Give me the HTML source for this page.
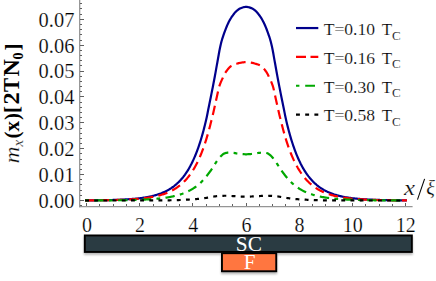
<!DOCTYPE html>
<html><head><meta charset="utf-8"><title>plot</title>
<style>
html,body{margin:0;padding:0;background:#fff;}
body{width:436px;height:281px;overflow:hidden;font-family:"Liberation Serif",serif;}
svg{display:block;}
text{font-family:"Liberation Serif",serif;fill:#000;}
.thin text{stroke:#fff;stroke-width:0.22px;}
.thin2 text{stroke:#fff;stroke-width:0.18px;}
</style></head><body>
<svg width="436" height="281" viewBox="0 0 436 281">
<rect width="436" height="281" fill="#fff"/>
<g stroke="#8c8c8c" fill="none">
<line x1="79.7" y1="0" x2="79.7" y2="207.2" stroke-width="1.2"/>
<line x1="79.1" y1="206.55" x2="412.6" y2="206.55" stroke-width="1.3" stroke="#959595"/>
</g>
<g stroke="#606060" stroke-width="1" fill="none" shape-rendering="crispEdges">
<line x1="86.50" y1="206.00" x2="86.50" y2="203.00"/>
<line x1="99.50" y1="206.00" x2="99.50" y2="204.00"/>
<line x1="113.50" y1="206.00" x2="113.50" y2="204.00"/>
<line x1="126.50" y1="206.00" x2="126.50" y2="204.00"/>
<line x1="139.50" y1="206.00" x2="139.50" y2="203.00"/>
<line x1="153.50" y1="206.00" x2="153.50" y2="204.00"/>
<line x1="166.50" y1="206.00" x2="166.50" y2="204.00"/>
<line x1="179.50" y1="206.00" x2="179.50" y2="204.00"/>
<line x1="192.50" y1="206.00" x2="192.50" y2="203.00"/>
<line x1="206.50" y1="206.00" x2="206.50" y2="204.00"/>
<line x1="219.50" y1="206.00" x2="219.50" y2="204.00"/>
<line x1="232.50" y1="206.00" x2="232.50" y2="204.00"/>
<line x1="246.50" y1="206.00" x2="246.50" y2="203.00"/>
<line x1="259.50" y1="206.00" x2="259.50" y2="204.00"/>
<line x1="272.50" y1="206.00" x2="272.50" y2="204.00"/>
<line x1="285.50" y1="206.00" x2="285.50" y2="204.00"/>
<line x1="299.50" y1="206.00" x2="299.50" y2="203.00"/>
<line x1="312.50" y1="206.00" x2="312.50" y2="204.00"/>
<line x1="325.50" y1="206.00" x2="325.50" y2="204.00"/>
<line x1="339.50" y1="206.00" x2="339.50" y2="204.00"/>
<line x1="352.50" y1="206.00" x2="352.50" y2="203.00"/>
<line x1="365.50" y1="206.00" x2="365.50" y2="204.00"/>
<line x1="379.50" y1="206.00" x2="379.50" y2="204.00"/>
<line x1="392.50" y1="206.00" x2="392.50" y2="204.00"/>
<line x1="405.50" y1="206.00" x2="405.50" y2="203.00"/>
<line x1="80.00" y1="205.50" x2="82.10" y2="205.50"/>
<line x1="80.00" y1="200.50" x2="84.00" y2="200.50"/>
<line x1="80.00" y1="195.50" x2="82.10" y2="195.50"/>
<line x1="80.00" y1="190.50" x2="82.10" y2="190.50"/>
<line x1="80.00" y1="184.50" x2="82.10" y2="184.50"/>
<line x1="80.00" y1="179.50" x2="82.10" y2="179.50"/>
<line x1="80.00" y1="174.50" x2="84.00" y2="174.50"/>
<line x1="80.00" y1="169.50" x2="82.10" y2="169.50"/>
<line x1="80.00" y1="164.50" x2="82.10" y2="164.50"/>
<line x1="80.00" y1="159.50" x2="82.10" y2="159.50"/>
<line x1="80.00" y1="153.50" x2="82.10" y2="153.50"/>
<line x1="80.00" y1="148.50" x2="84.00" y2="148.50"/>
<line x1="80.00" y1="143.50" x2="82.10" y2="143.50"/>
<line x1="80.00" y1="138.50" x2="82.10" y2="138.50"/>
<line x1="80.00" y1="133.50" x2="82.10" y2="133.50"/>
<line x1="80.00" y1="128.50" x2="82.10" y2="128.50"/>
<line x1="80.00" y1="122.50" x2="84.00" y2="122.50"/>
<line x1="80.00" y1="117.50" x2="82.10" y2="117.50"/>
<line x1="80.00" y1="112.50" x2="82.10" y2="112.50"/>
<line x1="80.00" y1="107.50" x2="82.10" y2="107.50"/>
<line x1="80.00" y1="102.50" x2="82.10" y2="102.50"/>
<line x1="80.00" y1="96.50" x2="84.00" y2="96.50"/>
<line x1="80.00" y1="91.50" x2="82.10" y2="91.50"/>
<line x1="80.00" y1="86.50" x2="82.10" y2="86.50"/>
<line x1="80.00" y1="81.50" x2="82.10" y2="81.50"/>
<line x1="80.00" y1="76.50" x2="82.10" y2="76.50"/>
<line x1="80.00" y1="71.50" x2="84.00" y2="71.50"/>
<line x1="80.00" y1="65.50" x2="82.10" y2="65.50"/>
<line x1="80.00" y1="60.50" x2="82.10" y2="60.50"/>
<line x1="80.00" y1="55.50" x2="82.10" y2="55.50"/>
<line x1="80.00" y1="50.50" x2="82.10" y2="50.50"/>
<line x1="80.00" y1="45.50" x2="84.00" y2="45.50"/>
<line x1="80.00" y1="40.50" x2="82.10" y2="40.50"/>
<line x1="80.00" y1="34.50" x2="82.10" y2="34.50"/>
<line x1="80.00" y1="29.50" x2="82.10" y2="29.50"/>
<line x1="80.00" y1="24.50" x2="82.10" y2="24.50"/>
<line x1="80.00" y1="19.50" x2="84.00" y2="19.50"/>
<line x1="80.00" y1="14.50" x2="82.10" y2="14.50"/>
<line x1="80.00" y1="8.50" x2="82.10" y2="8.50"/>
<line x1="80.00" y1="3.50" x2="82.10" y2="3.50"/>
</g>
<g fill="none" stroke-width="2.2" stroke-linejoin="round">
<path d="M85.10 200.38 L85.76 200.37 L86.43 200.37 L87.09 200.37 L87.76 200.36 L88.42 200.36 L89.09 200.35 L89.75 200.35 L90.42 200.34 L91.08 200.33 L91.75 200.33 L92.41 200.32 L93.08 200.31 L93.74 200.31 L94.41 200.30 L95.07 200.29 L95.74 200.29 L96.40 200.28 L97.07 200.27 L97.73 200.26 L98.40 200.25 L99.06 200.24 L99.73 200.24 L100.39 200.23 L101.06 200.22 L101.72 200.21 L102.39 200.19 L103.05 200.18 L103.72 200.17 L104.38 200.16 L105.05 200.15 L105.71 200.13 L106.38 200.12 L107.04 200.11 L107.71 200.09 L108.37 200.08 L109.04 200.06 L109.70 200.05 L110.37 200.03 L111.03 200.01 L111.70 200.00 L112.36 199.98 L113.03 199.96 L113.69 199.94 L114.36 199.92 L115.02 199.90 L115.69 199.88 L116.35 199.85 L117.02 199.83 L117.68 199.81 L118.34 199.78 L119.01 199.75 L119.67 199.73 L120.34 199.70 L121.00 199.67 L121.67 199.64 L122.33 199.61 L123.00 199.58 L123.66 199.54 L124.33 199.51 L124.99 199.47 L125.66 199.43 L126.32 199.39 L126.99 199.35 L127.65 199.31 L128.32 199.27 L128.98 199.22 L129.65 199.18 L130.31 199.13 L130.98 199.08 L131.64 199.03 L132.31 198.97 L132.97 198.92 L133.64 198.86 L134.30 198.80 L134.97 198.74 L135.63 198.68 L136.30 198.61 L136.96 198.54 L137.63 198.47 L138.29 198.40 L138.96 198.32 L139.62 198.24 L140.29 198.16 L140.95 198.07 L141.62 197.98 L142.28 197.89 L142.95 197.80 L143.61 197.70 L144.28 197.60 L144.94 197.49 L145.61 197.38 L146.27 197.27 L146.94 197.15 L147.60 197.03 L148.27 196.90 L148.93 196.77 L149.60 196.64 L150.26 196.50 L150.93 196.35 L151.59 196.20 L152.26 196.04 L152.92 195.88 L153.59 195.71 L154.25 195.54 L154.92 195.36 L155.58 195.17 L156.25 194.98 L156.91 194.78 L157.57 194.57 L158.24 194.35 L158.90 194.13 L159.57 193.90 L160.23 193.66 L160.90 193.41 L161.56 193.15 L162.23 192.88 L162.89 192.61 L163.56 192.32 L164.22 192.02 L164.89 191.71 L165.55 191.39 L166.22 191.06 L166.88 190.72 L167.55 190.36 L168.21 189.99 L168.88 189.61 L169.54 189.22 L170.21 188.81 L170.87 188.38 L171.54 187.94 L172.20 187.48 L172.87 187.01 L173.53 186.52 L174.20 186.01 L174.86 185.48 L175.53 184.94 L176.19 184.37 L176.86 183.78 L177.52 183.17 L178.19 182.54 L178.85 181.89 L179.52 181.21 L180.18 180.51 L180.85 179.79 L181.51 179.03 L182.18 178.25 L182.84 177.44 L183.51 176.60 L184.17 175.73 L184.84 174.83 L185.50 173.90 L186.17 172.93 L186.83 171.93 L187.50 170.89 L188.16 169.81 L188.83 168.69 L189.49 167.54 L190.16 166.34 L190.82 165.09 L191.49 163.81 L192.15 162.47 L192.82 161.09 L193.48 159.65 L194.15 158.17 L194.81 156.63 L195.48 155.03 L196.14 153.38 L196.81 151.66 L197.47 149.88 L198.13 148.04 L198.80 146.14 L199.46 144.16 L200.13 142.11 L200.79 139.98 L201.46 137.78 L202.12 135.50 L202.79 133.13 L203.45 130.68 L204.12 128.15 L204.78 125.54 L205.45 122.83 L206.11 119.99 L206.78 116.96 L207.44 113.66 L208.11 110.25 L208.77 106.92 L209.44 103.66 L210.10 100.41 L210.77 97.16 L211.43 93.89 L212.10 90.57 L212.76 87.18 L213.43 83.74 L214.09 80.26 L214.76 76.72 L215.42 73.12 L216.09 69.42 L216.75 65.68 L217.42 61.94 L218.08 58.25 L218.75 54.46 L219.41 50.76 L220.08 47.44 L220.74 44.50 L221.41 41.84 L222.07 39.44 L222.74 37.32 L223.40 35.37 L224.07 33.46 L224.73 31.59 L225.40 29.79 L226.06 28.09 L226.73 26.48 L227.39 24.94 L228.06 23.46 L228.72 22.08 L229.39 20.80 L230.05 19.62 L230.72 18.51 L231.38 17.47 L232.05 16.49 L232.71 15.55 L233.38 14.64 L234.04 13.75 L234.71 12.90 L235.37 12.13 L236.04 11.45 L236.70 10.86 L237.37 10.28 L238.03 9.75 L238.69 9.26 L239.36 8.82 L240.02 8.45 L240.69 8.17 L241.35 7.93 L242.02 7.70 L242.68 7.48 L243.35 7.29 L244.01 7.12 L244.68 7.00 L245.34 6.91 L246.01 6.87 L246.67 6.89 L247.34 6.96 L248.00 7.08 L248.67 7.24 L249.33 7.42 L250.00 7.63 L250.66 7.86 L251.33 8.10 L251.99 8.36 L252.66 8.70 L253.32 9.12 L253.99 9.59 L254.65 10.12 L255.32 10.68 L255.98 11.27 L256.65 11.91 L257.31 12.66 L257.98 13.48 L258.64 14.36 L259.31 15.27 L259.97 16.20 L260.64 17.17 L261.30 18.19 L261.97 19.28 L262.63 20.43 L263.30 21.68 L263.96 23.03 L264.63 24.48 L265.29 26.01 L265.96 27.59 L266.62 29.26 L267.29 31.03 L267.95 32.88 L268.62 34.79 L269.28 36.72 L269.95 38.77 L270.61 41.08 L271.28 43.67 L271.94 46.52 L272.61 49.70 L273.27 53.32 L273.94 57.11 L274.60 60.82 L275.27 64.54 L275.93 68.29 L276.60 72.00 L277.26 75.63 L277.93 79.19 L278.59 82.69 L279.25 86.14 L279.92 89.54 L280.58 92.89 L281.25 96.17 L281.91 99.43 L282.58 102.67 L283.24 105.93 L283.91 109.22 L284.57 112.62 L285.24 115.98 L285.90 119.09 L286.57 121.98 L287.23 124.73 L287.90 127.36 L288.56 129.92 L289.23 132.40 L289.89 134.79 L290.56 137.10 L291.22 139.32 L291.89 141.47 L292.55 143.54 L293.22 145.54 L293.88 147.47 L294.55 149.33 L295.21 151.13 L295.88 152.86 L296.54 154.53 L297.21 156.15 L297.87 157.70 L298.54 159.21 L299.20 160.66 L299.87 162.05 L300.53 163.41 L301.20 164.71 L301.86 165.96 L302.53 167.18 L303.19 168.35 L303.86 169.48 L304.52 170.56 L305.19 171.61 L305.85 172.63 L306.52 173.61 L307.18 174.55 L307.85 175.46 L308.51 176.34 L309.18 177.19 L309.84 178.01 L310.51 178.80 L311.17 179.56 L311.84 180.29 L312.50 181.00 L313.17 181.69 L313.83 182.35 L314.50 182.99 L315.16 183.60 L315.83 184.19 L316.49 184.77 L317.16 185.32 L317.82 185.85 L318.48 186.37 L319.15 186.86 L319.81 187.34 L320.48 187.80 L321.14 188.25 L321.81 188.68 L322.47 189.09 L323.14 189.49 L323.80 189.88 L324.47 190.25 L325.13 190.61 L325.80 190.96 L326.46 191.29 L327.13 191.62 L327.79 191.93 L328.46 192.23 L329.12 192.52 L329.79 192.80 L330.45 193.07 L331.12 193.33 L331.78 193.58 L332.45 193.83 L333.11 194.06 L333.78 194.29 L334.44 194.50 L335.11 194.72 L335.77 194.92 L336.44 195.11 L337.10 195.30 L337.77 195.49 L338.43 195.66 L339.10 195.83 L339.76 196.00 L340.43 196.15 L341.09 196.31 L341.76 196.45 L342.42 196.60 L343.09 196.73 L343.75 196.86 L344.42 196.99 L345.08 197.12 L345.75 197.23 L346.41 197.35 L347.08 197.46 L347.74 197.57 L348.41 197.67 L349.07 197.77 L349.74 197.86 L350.40 197.96 L351.07 198.05 L351.73 198.13 L352.40 198.22 L353.06 198.30 L353.73 198.37 L354.39 198.45 L355.06 198.52 L355.72 198.59 L356.39 198.66 L357.05 198.72 L357.72 198.78 L358.38 198.84 L359.04 198.90 L359.71 198.96 L360.37 199.01 L361.04 199.06 L361.70 199.11 L362.37 199.16 L363.03 199.21 L363.70 199.26 L364.36 199.30 L365.03 199.34 L365.69 199.38 L366.36 199.42 L367.02 199.46 L367.69 199.50 L368.35 199.53 L369.02 199.57 L369.68 199.60 L370.35 199.63 L371.01 199.66 L371.68 199.69 L372.34 199.72 L373.01 199.75 L373.67 199.77 L374.34 199.80 L375.00 199.82 L375.67 199.85 L376.33 199.87 L377.00 199.89 L377.66 199.91 L378.33 199.93 L378.99 199.95 L379.66 199.97 L380.32 199.99 L380.99 200.01 L381.65 200.03 L382.32 200.04 L382.98 200.06 L383.65 200.07 L384.31 200.09 L384.98 200.10 L385.64 200.12 L386.31 200.13 L386.97 200.14 L387.64 200.16 L388.30 200.17 L388.97 200.18 L389.63 200.19 L390.30 200.20 L390.96 200.21 L391.63 200.22 L392.29 200.23 L392.96 200.24 L393.62 200.25 L394.29 200.26 L394.95 200.27 L395.62 200.28 L396.28 200.28 L396.95 200.29 L397.61 200.30 L398.28 200.31 L398.94 200.31 L399.60 200.32 L400.27 200.33 L400.93 200.33 L401.60 200.34 L402.26 200.34 L402.93 200.35 L403.59 200.35 L404.26 200.36 L404.92 200.36 L405.59 200.37 L406.25 200.37 L406.92 200.38" stroke="#00008c"/>
<path d="M85.10 200.40 L85.76 200.40 L86.43 200.39 L87.09 200.39 L87.76 200.39 L88.42 200.38 L89.09 200.38 L89.75 200.37 L90.42 200.37 L91.08 200.36 L91.75 200.36 L92.41 200.35 L93.08 200.35 L93.74 200.34 L94.41 200.34 L95.07 200.33 L95.74 200.33 L96.40 200.32 L97.07 200.31 L97.73 200.31 L98.40 200.30 L99.06 200.29 L99.73 200.28 L100.39 200.28 L101.06 200.27 L101.72 200.26 L102.39 200.25 L103.05 200.24 L103.72 200.23 L104.38 200.22 L105.05 200.21 L105.71 200.20 L106.38 200.19 L107.04 200.18 L107.71 200.17 L108.37 200.16 L109.04 200.15 L109.70 200.13 L110.37 200.12 L111.03 200.11 L111.70 200.09 L112.36 200.08 L113.03 200.06 L113.69 200.05 L114.36 200.03 L115.02 200.01 L115.69 200.00 L116.35 199.98 L117.02 199.96 L117.68 199.94 L118.34 199.92 L119.01 199.90 L119.67 199.88 L120.34 199.86 L121.00 199.83 L121.67 199.81 L122.33 199.78 L123.00 199.76 L123.66 199.73 L124.33 199.70 L124.99 199.68 L125.66 199.65 L126.32 199.62 L126.99 199.58 L127.65 199.55 L128.32 199.52 L128.98 199.48 L129.65 199.45 L130.31 199.41 L130.98 199.37 L131.64 199.33 L132.31 199.29 L132.97 199.24 L133.64 199.20 L134.30 199.15 L134.97 199.10 L135.63 199.05 L136.30 199.00 L136.96 198.95 L137.63 198.89 L138.29 198.83 L138.96 198.77 L139.62 198.71 L140.29 198.65 L140.95 198.58 L141.62 198.51 L142.28 198.44 L142.95 198.37 L143.61 198.29 L144.28 198.21 L144.94 198.13 L145.61 198.04 L146.27 197.96 L146.94 197.86 L147.60 197.77 L148.27 197.67 L148.93 197.57 L149.60 197.47 L150.26 197.36 L150.93 197.24 L151.59 197.13 L152.26 197.01 L152.92 196.88 L153.59 196.75 L154.25 196.62 L154.92 196.48 L155.58 196.33 L156.25 196.18 L156.91 196.03 L157.57 195.87 L158.24 195.70 L158.90 195.53 L159.57 195.35 L160.23 195.17 L160.90 194.98 L161.56 194.78 L162.23 194.57 L162.89 194.36 L163.56 194.14 L164.22 193.91 L164.89 193.68 L165.55 193.43 L166.22 193.18 L166.88 192.92 L167.55 192.64 L168.21 192.36 L168.88 192.07 L169.54 191.77 L170.21 191.45 L170.87 191.13 L171.54 190.79 L172.20 190.45 L172.87 190.09 L173.53 189.71 L174.20 189.32 L174.86 188.92 L175.53 188.51 L176.19 188.08 L176.86 187.63 L177.52 187.17 L178.19 186.69 L178.85 186.20 L179.52 185.69 L180.18 185.15 L180.85 184.61 L181.51 184.03 L182.18 183.44 L182.84 182.83 L183.51 182.20 L184.17 181.54 L184.84 180.86 L185.50 180.16 L186.17 179.43 L186.83 178.67 L187.50 177.89 L188.16 177.08 L188.83 176.24 L189.49 175.37 L190.16 174.47 L190.82 173.54 L191.49 172.57 L192.15 171.57 L192.82 170.53 L193.48 169.46 L194.15 168.34 L194.81 167.19 L195.48 165.99 L196.14 164.76 L196.81 163.48 L197.47 162.15 L198.13 160.77 L198.80 159.35 L199.46 157.87 L200.13 156.34 L200.79 154.76 L201.46 153.12 L202.12 151.42 L202.79 149.66 L203.45 147.84 L204.12 145.95 L204.78 143.99 L205.45 141.97 L206.11 139.87 L206.78 137.69 L207.44 135.43 L208.11 133.09 L208.77 130.67 L209.44 128.19 L210.10 125.67 L210.77 123.08 L211.43 120.45 L212.10 117.75 L212.76 115.01 L213.43 112.20 L214.09 109.29 L214.76 106.32 L215.42 103.32 L216.09 100.33 L216.75 97.35 L217.42 94.19 L218.08 91.07 L218.75 88.25 L219.41 85.98 L220.08 84.08 L220.74 82.39 L221.41 80.84 L222.07 79.40 L222.74 78.00 L223.40 76.60 L224.07 75.20 L224.73 73.86 L225.40 72.67 L226.06 71.68 L226.73 70.75 L227.39 69.86 L228.06 69.02 L228.72 68.24 L229.39 67.52 L230.05 66.87 L230.72 66.31 L231.38 65.84 L232.05 65.47 L232.71 65.15 L233.38 64.86 L234.04 64.61 L234.71 64.38 L235.37 64.17 L236.04 63.97 L236.70 63.77 L237.37 63.57 L238.03 63.37 L238.69 63.17 L239.36 62.99 L240.02 62.84 L240.69 62.72 L241.35 62.61 L242.02 62.50 L242.68 62.40 L243.35 62.31 L244.01 62.23 L244.68 62.17 L245.34 62.13 L246.01 62.11 L246.67 62.12 L247.34 62.16 L248.00 62.21 L248.67 62.28 L249.33 62.37 L250.00 62.47 L250.66 62.57 L251.33 62.69 L251.99 62.80 L252.66 62.94 L253.32 63.11 L253.99 63.31 L254.65 63.51 L255.32 63.71 L255.98 63.91 L256.65 64.11 L257.31 64.31 L257.98 64.54 L258.64 64.78 L259.31 65.06 L259.97 65.37 L260.64 65.72 L261.30 66.16 L261.97 66.69 L262.63 67.31 L263.30 68.01 L263.96 68.78 L264.63 69.60 L265.29 70.48 L265.96 71.40 L266.62 72.35 L267.29 73.48 L267.95 74.78 L268.62 76.17 L269.28 77.58 L269.95 78.97 L270.61 80.40 L271.28 81.90 L271.94 83.55 L272.61 85.38 L273.27 87.49 L273.94 90.16 L274.60 93.22 L275.27 96.40 L275.93 99.43 L276.60 102.40 L277.26 105.41 L277.93 108.40 L278.59 111.33 L279.25 114.17 L279.92 116.93 L280.58 119.63 L281.25 122.29 L281.91 124.89 L282.58 127.43 L283.24 129.92 L283.91 132.36 L284.57 134.73 L285.24 137.02 L285.90 139.21 L286.57 141.34 L287.23 143.39 L287.90 145.36 L288.56 147.27 L289.23 149.11 L289.89 150.89 L290.56 152.61 L291.22 154.27 L291.89 155.87 L292.55 157.41 L293.22 158.91 L293.88 160.34 L294.55 161.73 L295.21 163.08 L295.88 164.37 L296.54 165.62 L297.21 166.83 L297.87 168.00 L298.54 169.12 L299.20 170.21 L299.87 171.26 L300.53 172.27 L301.20 173.25 L301.86 174.19 L302.53 175.10 L303.19 175.98 L303.86 176.83 L304.52 177.65 L305.19 178.44 L305.85 179.20 L306.52 179.94 L307.18 180.65 L307.85 181.34 L308.51 182.00 L309.18 182.64 L309.84 183.26 L310.51 183.86 L311.17 184.43 L311.84 184.99 L312.50 185.53 L313.17 186.05 L313.83 186.55 L314.50 187.03 L315.16 187.49 L315.83 187.95 L316.49 188.38 L317.16 188.80 L317.82 189.20 L318.48 189.60 L319.15 189.97 L319.81 190.34 L320.48 190.69 L321.14 191.03 L321.81 191.36 L322.47 191.67 L323.14 191.98 L323.80 192.27 L324.47 192.56 L325.13 192.83 L325.80 193.10 L326.46 193.36 L327.13 193.60 L327.79 193.84 L328.46 194.07 L329.12 194.29 L329.79 194.51 L330.45 194.72 L331.12 194.92 L331.78 195.11 L332.45 195.30 L333.11 195.48 L333.78 195.65 L334.44 195.82 L335.11 195.98 L335.77 196.14 L336.44 196.29 L337.10 196.43 L337.77 196.57 L338.43 196.71 L339.10 196.84 L339.76 196.97 L340.43 197.09 L341.09 197.21 L341.76 197.32 L342.42 197.43 L343.09 197.54 L343.75 197.64 L344.42 197.74 L345.08 197.84 L345.75 197.93 L346.41 198.02 L347.08 198.10 L347.74 198.19 L348.41 198.27 L349.07 198.34 L349.74 198.42 L350.40 198.49 L351.07 198.56 L351.73 198.63 L352.40 198.69 L353.06 198.75 L353.73 198.81 L354.39 198.87 L355.06 198.93 L355.72 198.98 L356.39 199.04 L357.05 199.09 L357.72 199.14 L358.38 199.18 L359.04 199.23 L359.71 199.27 L360.37 199.32 L361.04 199.36 L361.70 199.40 L362.37 199.43 L363.03 199.47 L363.70 199.51 L364.36 199.54 L365.03 199.57 L365.69 199.61 L366.36 199.64 L367.02 199.67 L367.69 199.70 L368.35 199.72 L369.02 199.75 L369.68 199.78 L370.35 199.80 L371.01 199.83 L371.68 199.85 L372.34 199.87 L373.01 199.89 L373.67 199.91 L374.34 199.93 L375.00 199.95 L375.67 199.97 L376.33 199.99 L377.00 200.01 L377.66 200.03 L378.33 200.04 L378.99 200.06 L379.66 200.07 L380.32 200.09 L380.99 200.10 L381.65 200.12 L382.32 200.13 L382.98 200.14 L383.65 200.15 L384.31 200.17 L384.98 200.18 L385.64 200.19 L386.31 200.20 L386.97 200.21 L387.64 200.22 L388.30 200.23 L388.97 200.24 L389.63 200.25 L390.30 200.26 L390.96 200.27 L391.63 200.27 L392.29 200.28 L392.96 200.29 L393.62 200.30 L394.29 200.30 L394.95 200.31 L395.62 200.32 L396.28 200.32 L396.95 200.33 L397.61 200.34 L398.28 200.34 L398.94 200.35 L399.60 200.35 L400.27 200.36 L400.93 200.36 L401.60 200.37 L402.26 200.37 L402.93 200.38 L403.59 200.38 L404.26 200.38 L404.92 200.39 L405.59 200.39 L406.25 200.40 L406.92 200.40" stroke="#ff0000" stroke-dasharray="9.45 5.27"/>
<path d="M85.10 200.46 L85.76 200.46 L86.42 200.46 L87.09 200.46 L87.75 200.45 L88.41 200.45 L89.07 200.45 L89.73 200.45 L90.40 200.45 L91.06 200.45 L91.72 200.44 L92.38 200.44 L93.05 200.44 L93.71 200.44 L94.37 200.44 L95.03 200.43 L95.69 200.43 L96.36 200.43 L97.02 200.43 L97.68 200.42 L98.34 200.42 L99.00 200.42 L99.67 200.42 L100.33 200.41 L100.99 200.41 L101.65 200.41 L102.32 200.40 L102.98 200.40 L103.64 200.40 L104.30 200.39 L104.96 200.39 L105.63 200.38 L106.29 200.38 L106.95 200.38 L107.61 200.37 L108.27 200.37 L108.94 200.36 L109.60 200.36 L110.26 200.35 L110.92 200.35 L111.59 200.34 L112.25 200.34 L112.91 200.33 L113.57 200.32 L114.23 200.32 L114.90 200.31 L115.56 200.30 L116.22 200.30 L116.88 200.29 L117.55 200.28 L118.21 200.27 L118.87 200.27 L119.53 200.26 L120.19 200.25 L120.86 200.24 L121.52 200.23 L122.18 200.22 L122.84 200.21 L123.50 200.20 L124.17 200.19 L124.83 200.18 L125.49 200.17 L126.15 200.16 L126.82 200.14 L127.48 200.13 L128.14 200.12 L128.80 200.10 L129.46 200.09 L130.13 200.08 L130.79 200.06 L131.45 200.04 L132.11 200.03 L132.78 200.01 L133.44 199.99 L134.10 199.98 L134.76 199.96 L135.42 199.94 L136.09 199.92 L136.75 199.90 L137.41 199.87 L138.07 199.85 L138.73 199.83 L139.40 199.81 L140.06 199.78 L140.72 199.76 L141.38 199.73 L142.05 199.70 L142.71 199.67 L143.37 199.64 L144.03 199.61 L144.69 199.58 L145.36 199.55 L146.02 199.51 L146.68 199.48 L147.34 199.44 L148.01 199.40 L148.67 199.37 L149.33 199.32 L149.99 199.28 L150.65 199.24 L151.32 199.19 L151.98 199.15 L152.64 199.10 L153.30 199.05 L153.96 199.00 L154.63 198.94 L155.29 198.89 L155.95 198.83 L156.61 198.77 L157.28 198.71 L157.94 198.65 L158.60 198.58 L159.26 198.51 L159.92 198.44 L160.59 198.37 L161.25 198.29 L161.91 198.21 L162.57 198.13 L163.24 198.04 L163.90 197.96 L164.56 197.87 L165.22 197.77 L165.88 197.67 L166.55 197.57 L167.21 197.47 L167.87 197.36 L168.53 197.25 L169.19 197.13 L169.86 197.01 L170.52 196.89 L171.18 196.76 L171.84 196.62 L172.51 196.49 L173.17 196.34 L173.83 196.19 L174.49 196.04 L175.15 195.88 L175.82 195.72 L176.48 195.55 L177.14 195.37 L177.80 195.19 L178.47 195.00 L179.13 194.80 L179.79 194.60 L180.45 194.39 L181.11 194.17 L181.78 193.94 L182.44 193.71 L183.10 193.46 L183.76 193.21 L184.42 192.95 L185.09 192.68 L185.75 192.40 L186.41 192.12 L187.07 191.82 L187.74 191.51 L188.40 191.18 L189.06 190.85 L189.72 190.51 L190.38 190.15 L191.05 189.78 L191.71 189.40 L192.37 189.00 L193.03 188.59 L193.70 188.17 L194.36 187.73 L195.02 187.27 L195.68 186.80 L196.34 186.31 L197.01 185.80 L197.67 185.28 L198.33 184.73 L198.99 184.17 L199.65 183.59 L200.32 182.98 L200.98 182.36 L201.64 181.71 L202.30 181.04 L202.97 180.34 L203.63 179.62 L204.29 178.88 L204.95 178.10 L205.61 177.29 L206.28 176.46 L206.94 175.61 L207.60 174.75 L208.26 173.89 L208.93 173.02 L209.59 172.14 L210.25 171.25 L210.91 170.34 L211.57 169.40 L212.24 168.44 L212.90 167.43 L213.56 166.36 L214.22 165.26 L214.88 164.18 L215.55 163.14 L216.21 162.16 L216.87 161.22 L217.53 160.31 L218.20 159.45 L218.86 158.58 L219.52 157.74 L220.18 156.94 L220.84 156.23 L221.51 155.61 L222.17 155.02 L222.83 154.46 L223.49 153.95 L224.16 153.54 L224.82 153.25 L225.48 153.08 L226.14 152.93 L226.80 152.80 L227.47 152.70 L228.13 152.63 L228.79 152.61 L229.45 152.62 L230.11 152.64 L230.78 152.67 L231.44 152.72 L232.10 152.77 L232.76 152.83 L233.43 152.89 L234.09 152.96 L234.75 153.04 L235.41 153.16 L236.07 153.31 L236.74 153.46 L237.40 153.58 L238.06 153.66 L238.72 153.74 L239.38 153.82 L240.05 153.89 L240.71 153.96 L241.37 154.02 L242.03 154.07 L242.70 154.12 L243.36 154.16 L244.02 154.20 L244.68 154.24 L245.34 154.28 L246.01 154.29 L246.67 154.28 L247.33 154.26 L247.99 154.22 L248.66 154.18 L249.32 154.13 L249.98 154.09 L250.64 154.03 L251.30 153.98 L251.97 153.91 L252.63 153.84 L253.29 153.77 L253.95 153.69 L254.61 153.61 L255.28 153.50 L255.94 153.36 L256.60 153.21 L257.26 153.07 L257.93 152.98 L258.59 152.92 L259.25 152.85 L259.91 152.79 L260.57 152.73 L261.24 152.69 L261.90 152.65 L262.56 152.62 L263.22 152.61 L263.89 152.62 L264.55 152.67 L265.21 152.76 L265.87 152.88 L266.53 153.03 L267.20 153.19 L267.86 153.43 L268.52 153.81 L269.18 154.29 L269.84 154.84 L270.51 155.43 L271.17 156.02 L271.83 156.71 L272.49 157.48 L273.16 158.31 L273.82 159.18 L274.48 160.04 L275.14 160.93 L275.80 161.86 L276.47 162.83 L277.13 163.85 L277.79 164.92 L278.45 166.02 L279.12 167.10 L279.78 168.14 L280.44 169.11 L281.10 170.05 L281.76 170.97 L282.43 171.87 L283.09 172.75 L283.75 173.62 L284.41 174.48 L285.07 175.34 L285.74 176.20 L286.40 177.04 L287.06 177.85 L287.72 178.64 L288.39 179.39 L289.05 180.12 L289.71 180.82 L290.37 181.50 L291.03 182.16 L291.70 182.79 L292.36 183.40 L293.02 183.99 L293.68 184.56 L294.35 185.11 L295.01 185.64 L295.67 186.15 L296.33 186.65 L296.99 187.12 L297.66 187.58 L298.32 188.03 L298.98 188.46 L299.64 188.87 L300.30 189.28 L300.97 189.66 L301.63 190.04 L302.29 190.40 L302.95 190.75 L303.62 191.08 L304.28 191.41 L304.94 191.72 L305.60 192.02 L306.26 192.31 L306.93 192.60 L307.59 192.87 L308.25 193.13 L308.91 193.39 L309.58 193.63 L310.24 193.87 L310.90 194.10 L311.56 194.32 L312.22 194.53 L312.89 194.74 L313.55 194.94 L314.21 195.13 L314.87 195.31 L315.53 195.49 L316.20 195.66 L316.86 195.83 L317.52 195.99 L318.18 196.15 L318.85 196.30 L319.51 196.44 L320.17 196.58 L320.83 196.72 L321.49 196.85 L322.16 196.97 L322.82 197.10 L323.48 197.21 L324.14 197.33 L324.81 197.44 L325.47 197.54 L326.13 197.64 L326.79 197.74 L327.45 197.84 L328.12 197.93 L328.78 198.02 L329.44 198.10 L330.10 198.19 L330.76 198.27 L331.43 198.34 L332.09 198.42 L332.75 198.49 L333.41 198.56 L334.08 198.62 L334.74 198.69 L335.40 198.75 L336.06 198.81 L336.72 198.87 L337.39 198.93 L338.05 198.98 L338.71 199.03 L339.37 199.08 L340.04 199.13 L340.70 199.18 L341.36 199.23 L342.02 199.27 L342.68 199.31 L343.35 199.35 L344.01 199.39 L344.67 199.43 L345.33 199.47 L345.99 199.50 L346.66 199.54 L347.32 199.57 L347.98 199.60 L348.64 199.63 L349.31 199.66 L349.97 199.69 L350.63 199.72 L351.29 199.75 L351.95 199.77 L352.62 199.80 L353.28 199.82 L353.94 199.85 L354.60 199.87 L355.26 199.89 L355.93 199.91 L356.59 199.93 L357.25 199.95 L357.91 199.97 L358.58 199.99 L359.24 200.01 L359.90 200.02 L360.56 200.04 L361.22 200.06 L361.89 200.07 L362.55 200.09 L363.21 200.10 L363.87 200.11 L364.54 200.13 L365.20 200.14 L365.86 200.15 L366.52 200.16 L367.18 200.18 L367.85 200.19 L368.51 200.20 L369.17 200.21 L369.83 200.22 L370.49 200.23 L371.16 200.24 L371.82 200.25 L372.48 200.25 L373.14 200.26 L373.81 200.27 L374.47 200.28 L375.13 200.29 L375.79 200.29 L376.45 200.30 L377.12 200.31 L377.78 200.31 L378.44 200.32 L379.10 200.33 L379.77 200.33 L380.43 200.34 L381.09 200.34 L381.75 200.35 L382.41 200.36 L383.08 200.36 L383.74 200.37 L384.40 200.37 L385.06 200.37 L385.72 200.38 L386.39 200.38 L387.05 200.39 L387.71 200.39 L388.37 200.39 L389.04 200.40 L389.70 200.40 L390.36 200.40 L391.02 200.41 L391.68 200.41 L392.35 200.41 L393.01 200.42 L393.67 200.42 L394.33 200.42 L395.00 200.43 L395.66 200.43 L396.32 200.43 L396.98 200.43 L397.64 200.44 L398.31 200.44 L398.97 200.44 L399.63 200.44 L400.29 200.44 L400.95 200.45 L401.62 200.45 L402.28 200.45 L402.94 200.45 L403.60 200.45 L404.27 200.45 L404.93 200.46 L405.59 200.46" stroke="#00a800" stroke-dasharray="3.8 5.3 9.4 5.3"/>
<path d="M85.10 200.50 L85.76 200.50 L86.42 200.50 L87.08 200.50 L87.75 200.50 L88.41 200.50 L89.07 200.50 L89.73 200.50 L90.39 200.50 L91.05 200.50 L91.72 200.50 L92.38 200.50 L93.04 200.50 L93.70 200.50 L94.36 200.50 L95.02 200.50 L95.68 200.50 L96.35 200.50 L97.01 200.50 L97.67 200.50 L98.33 200.49 L98.99 200.49 L99.65 200.49 L100.32 200.49 L100.98 200.49 L101.64 200.49 L102.30 200.49 L102.96 200.49 L103.62 200.49 L104.29 200.49 L104.95 200.49 L105.61 200.49 L106.27 200.49 L106.93 200.49 L107.59 200.49 L108.26 200.49 L108.92 200.49 L109.58 200.49 L110.24 200.49 L110.90 200.49 L111.56 200.49 L112.23 200.49 L112.89 200.49 L113.55 200.49 L114.21 200.49 L114.87 200.49 L115.53 200.49 L116.20 200.49 L116.86 200.49 L117.52 200.49 L118.18 200.49 L118.84 200.49 L119.50 200.48 L120.16 200.48 L120.83 200.48 L121.49 200.48 L122.15 200.48 L122.81 200.48 L123.47 200.48 L124.13 200.48 L124.80 200.48 L125.46 200.48 L126.12 200.48 L126.78 200.48 L127.44 200.48 L128.10 200.48 L128.77 200.47 L129.43 200.47 L130.09 200.47 L130.75 200.47 L131.41 200.47 L132.07 200.47 L132.74 200.47 L133.40 200.47 L134.06 200.47 L134.72 200.47 L135.38 200.46 L136.04 200.46 L136.71 200.46 L137.37 200.46 L138.03 200.46 L138.69 200.46 L139.35 200.46 L140.01 200.45 L140.68 200.45 L141.34 200.45 L142.00 200.45 L142.66 200.45 L143.32 200.45 L143.98 200.44 L144.65 200.44 L145.31 200.44 L145.97 200.44 L146.63 200.44 L147.29 200.43 L147.95 200.43 L148.61 200.43 L149.28 200.43 L149.94 200.42 L150.60 200.42 L151.26 200.42 L151.92 200.41 L152.58 200.41 L153.25 200.41 L153.91 200.40 L154.57 200.40 L155.23 200.40 L155.89 200.39 L156.55 200.39 L157.22 200.39 L157.88 200.38 L158.54 200.38 L159.20 200.37 L159.86 200.37 L160.52 200.36 L161.19 200.36 L161.85 200.36 L162.51 200.35 L163.17 200.34 L163.83 200.34 L164.49 200.33 L165.16 200.33 L165.82 200.32 L166.48 200.31 L167.14 200.31 L167.80 200.30 L168.46 200.30 L169.13 200.29 L169.79 200.28 L170.45 200.27 L171.11 200.26 L171.77 200.25 L172.43 200.24 L173.09 200.22 L173.76 200.20 L174.42 200.18 L175.08 200.16 L175.74 200.14 L176.40 200.12 L177.06 200.10 L177.73 200.07 L178.39 200.05 L179.05 200.03 L179.71 200.00 L180.37 199.98 L181.03 199.95 L181.70 199.92 L182.36 199.89 L183.02 199.86 L183.68 199.83 L184.34 199.80 L185.00 199.77 L185.67 199.73 L186.33 199.70 L186.99 199.66 L187.65 199.63 L188.31 199.59 L188.97 199.55 L189.64 199.52 L190.30 199.48 L190.96 199.44 L191.62 199.40 L192.28 199.35 L192.94 199.31 L193.61 199.27 L194.27 199.22 L194.93 199.17 L195.59 199.12 L196.25 199.07 L196.91 199.01 L197.57 198.95 L198.24 198.89 L198.90 198.82 L199.56 198.75 L200.22 198.67 L200.88 198.60 L201.54 198.51 L202.21 198.43 L202.87 198.34 L203.53 198.26 L204.19 198.17 L204.85 198.07 L205.51 197.98 L206.18 197.89 L206.84 197.79 L207.50 197.69 L208.16 197.58 L208.82 197.46 L209.48 197.34 L210.15 197.21 L210.81 197.08 L211.47 196.95 L212.13 196.83 L212.79 196.71 L213.45 196.60 L214.12 196.49 L214.78 196.41 L215.44 196.33 L216.10 196.27 L216.76 196.22 L217.42 196.16 L218.09 196.10 L218.75 196.05 L219.41 196.00 L220.07 195.95 L220.73 195.91 L221.39 195.87 L222.05 195.84 L222.72 195.81 L223.38 195.79 L224.04 195.77 L224.70 195.76 L225.36 195.76 L226.02 195.77 L226.69 195.78 L227.35 195.80 L228.01 195.82 L228.67 195.85 L229.33 195.88 L229.99 195.91 L230.66 195.94 L231.32 195.97 L231.98 196.01 L232.64 196.04 L233.30 196.07 L233.96 196.10 L234.63 196.13 L235.29 196.16 L235.95 196.20 L236.61 196.24 L237.27 196.28 L237.93 196.32 L238.60 196.37 L239.26 196.41 L239.92 196.45 L240.58 196.49 L241.24 196.53 L241.90 196.57 L242.57 196.60 L243.23 196.63 L243.89 196.66 L244.55 196.68 L245.21 196.69 L245.87 196.69 L246.53 196.69 L247.20 196.69 L247.86 196.67 L248.52 196.65 L249.18 196.62 L249.84 196.59 L250.50 196.56 L251.17 196.52 L251.83 196.48 L252.49 196.44 L253.15 196.40 L253.81 196.36 L254.47 196.31 L255.14 196.27 L255.80 196.23 L256.46 196.19 L257.12 196.15 L257.78 196.12 L258.44 196.09 L259.11 196.06 L259.77 196.03 L260.43 196.00 L261.09 195.96 L261.75 195.93 L262.41 195.90 L263.08 195.87 L263.74 195.84 L264.40 195.82 L265.06 195.80 L265.72 195.78 L266.38 195.77 L267.05 195.76 L267.71 195.76 L268.37 195.77 L269.03 195.79 L269.69 195.82 L270.35 195.85 L271.01 195.88 L271.68 195.92 L272.34 195.97 L273.00 196.01 L273.66 196.07 L274.32 196.12 L274.98 196.18 L275.65 196.23 L276.31 196.29 L276.97 196.35 L277.63 196.43 L278.29 196.52 L278.95 196.63 L279.62 196.74 L280.28 196.86 L280.94 196.99 L281.60 197.12 L282.26 197.24 L282.92 197.37 L283.59 197.50 L284.25 197.61 L284.91 197.72 L285.57 197.82 L286.23 197.91 L286.89 198.01 L287.56 198.10 L288.22 198.19 L288.88 198.28 L289.54 198.37 L290.20 198.45 L290.86 198.54 L291.53 198.62 L292.19 198.70 L292.85 198.77 L293.51 198.84 L294.17 198.91 L294.83 198.97 L295.49 199.03 L296.16 199.08 L296.82 199.13 L297.48 199.18 L298.14 199.23 L298.80 199.28 L299.46 199.32 L300.13 199.37 L300.79 199.41 L301.45 199.45 L302.11 199.49 L302.77 199.53 L303.43 199.56 L304.10 199.60 L304.76 199.64 L305.42 199.67 L306.08 199.71 L306.74 199.74 L307.40 199.78 L308.07 199.81 L308.73 199.84 L309.39 199.87 L310.05 199.90 L310.71 199.93 L311.37 199.96 L312.04 199.98 L312.70 200.01 L313.36 200.03 L314.02 200.06 L314.68 200.08 L315.34 200.10 L316.01 200.13 L316.67 200.15 L317.33 200.17 L317.99 200.19 L318.65 200.21 L319.31 200.22 L319.97 200.24 L320.64 200.25 L321.30 200.27 L321.96 200.27 L322.62 200.28 L323.28 200.29 L323.94 200.30 L324.61 200.30 L325.27 200.31 L325.93 200.32 L326.59 200.32 L327.25 200.33 L327.91 200.33 L328.58 200.34 L329.24 200.35 L329.90 200.35 L330.56 200.36 L331.22 200.36 L331.88 200.37 L332.55 200.37 L333.21 200.38 L333.87 200.38 L334.53 200.38 L335.19 200.39 L335.85 200.39 L336.52 200.40 L337.18 200.40 L337.84 200.40 L338.50 200.41 L339.16 200.41 L339.82 200.41 L340.49 200.42 L341.15 200.42 L341.81 200.42 L342.47 200.42 L343.13 200.43 L343.79 200.43 L344.45 200.43 L345.12 200.43 L345.78 200.44 L346.44 200.44 L347.10 200.44 L347.76 200.44 L348.42 200.44 L349.09 200.45 L349.75 200.45 L350.41 200.45 L351.07 200.45 L351.73 200.45 L352.39 200.45 L353.06 200.46 L353.72 200.46 L354.38 200.46 L355.04 200.46 L355.70 200.46 L356.36 200.46 L357.03 200.46 L357.69 200.47 L358.35 200.47 L359.01 200.47 L359.67 200.47 L360.33 200.47 L361.00 200.47 L361.66 200.47 L362.32 200.47 L362.98 200.47 L363.64 200.48 L364.30 200.48 L364.97 200.48 L365.63 200.48 L366.29 200.48 L366.95 200.48 L367.61 200.48 L368.27 200.48 L368.93 200.48 L369.60 200.48 L370.26 200.48 L370.92 200.48 L371.58 200.48 L372.24 200.48 L372.90 200.48 L373.57 200.49 L374.23 200.49 L374.89 200.49 L375.55 200.49 L376.21 200.49 L376.87 200.49 L377.54 200.49 L378.20 200.49 L378.86 200.49 L379.52 200.49 L380.18 200.49 L380.84 200.49 L381.51 200.49 L382.17 200.49 L382.83 200.49 L383.49 200.49 L384.15 200.49 L384.81 200.49 L385.48 200.49 L386.14 200.49 L386.80 200.49 L387.46 200.49 L388.12 200.49 L388.78 200.49 L389.45 200.49 L390.11 200.49 L390.77 200.49 L391.43 200.49 L392.09 200.49 L392.75 200.49 L393.41 200.49 L394.08 200.50 L394.74 200.50 L395.40 200.50 L396.06 200.50 L396.72 200.50 L397.38 200.50 L398.05 200.50 L398.71 200.50 L399.37 200.50 L400.03 200.50 L400.69 200.50 L401.35 200.50 L402.02 200.50 L402.68 200.50 L403.34 200.50 L404.00 200.50 L404.66 200.50 L405.32 200.50" stroke="#000" stroke-dasharray="3.9 5.27"/>
</g>
<g font-size="20.5" class="thin">
<text x="74.4" y="207.90" text-anchor="end" textLength="35.8" lengthAdjust="spacingAndGlyphs">0.00</text>
<text x="74.4" y="182.01" text-anchor="end" textLength="35.8" lengthAdjust="spacingAndGlyphs">0.01</text>
<text x="74.4" y="156.13" text-anchor="end" textLength="35.8" lengthAdjust="spacingAndGlyphs">0.02</text>
<text x="74.4" y="130.24" text-anchor="end" textLength="35.8" lengthAdjust="spacingAndGlyphs">0.03</text>
<text x="74.4" y="104.36" text-anchor="end" textLength="35.8" lengthAdjust="spacingAndGlyphs">0.04</text>
<text x="74.4" y="78.47" text-anchor="end" textLength="35.8" lengthAdjust="spacingAndGlyphs">0.05</text>
<text x="74.4" y="52.58" text-anchor="end" textLength="35.8" lengthAdjust="spacingAndGlyphs">0.06</text>
<text x="74.4" y="26.70" text-anchor="end" textLength="35.8" lengthAdjust="spacingAndGlyphs">0.07</text>
</g>
<g font-size="20" class="thin">
<text x="86.90" y="231.9" text-anchor="middle">0</text>
<text x="140.06" y="231.9" text-anchor="middle">2</text>
<text x="193.22" y="231.9" text-anchor="middle">4</text>
<text x="246.38" y="231.9" text-anchor="middle">6</text>
<text x="299.54" y="231.9" text-anchor="middle">8</text>
<text x="352.70" y="231.9" text-anchor="middle">10</text>
<text x="405.86" y="231.9" text-anchor="middle">12</text>
</g>
<g class="thin2">
<line x1="296" y1="28.05" x2="318.3" y2="28.05" stroke="#00008c" stroke-width="2.2"/>
<text x="323.7" y="35.20" font-size="17" textLength="51.4" lengthAdjust="spacingAndGlyphs">T=0.10</text>
<text x="381.8" y="35.20" font-size="17">T</text>
<text x="391.9" y="39.60" font-size="13">C</text>
<line x1="296" y1="56.90" x2="318.3" y2="56.90" stroke="#ff0000" stroke-width="2.2" stroke-dasharray="10 4.5"/>
<text x="323.7" y="63.90" font-size="17" textLength="51.4" lengthAdjust="spacingAndGlyphs">T=0.16</text>
<text x="381.8" y="63.90" font-size="17">T</text>
<text x="391.9" y="68.30" font-size="13">C</text>
<line x1="296" y1="85.75" x2="318.3" y2="85.75" stroke="#00a800" stroke-width="2.2" stroke-dasharray="3.4 5.8 9.8 20"/>
<text x="323.7" y="92.60" font-size="17" textLength="51.4" lengthAdjust="spacingAndGlyphs">T=0.30</text>
<text x="381.8" y="92.60" font-size="17">T</text>
<text x="391.9" y="97.00" font-size="13">C</text>
<line x1="296" y1="114.60" x2="318.3" y2="114.60" stroke="#000000" stroke-width="2.2" stroke-dasharray="3.9 5.3"/>
<text x="323.7" y="121.30" font-size="17" textLength="51.4" lengthAdjust="spacingAndGlyphs">T=0.58</text>
<text x="381.8" y="121.30" font-size="17">T</text>
<text x="391.9" y="125.70" font-size="13">C</text>
</g>
<g font-size="22" font-style="italic" class="thin">
<text x="403.9" y="194.9" textLength="11" lengthAdjust="spacingAndGlyphs">x</text>
<line x1="417.5" y1="199.7" x2="424.6" y2="178.9" stroke="#000" stroke-width="1.05"/>
<text x="426.2" y="194.6" font-size="20">ξ</text>
</g>
<g transform="translate(19.2,162.6) rotate(-90)" font-size="21">
<text x="-0.6" y="0" font-style="italic" textLength="16.7" lengthAdjust="spacingAndGlyphs" stroke="#fff" stroke-width="0.25">m</text>
<text x="16" y="3.5" font-style="italic" font-size="15" stroke="#fff" stroke-width="0.2">x</text>
<g font-weight="bold">
<text x="24" y="0">(</text>
<text x="31" y="0">x</text>
<text x="42.5" y="0">)</text>
<text x="49.5" y="0">[</text>
<text x="58.2" y="0.2" font-size="22.8" textLength="12.2" lengthAdjust="spacingAndGlyphs">2</text>
<text x="70.5" y="0.2" font-size="22.8" textLength="14.1" lengthAdjust="spacingAndGlyphs">T</text>
<text x="86.1" y="0.2" font-size="22.8" textLength="17.3" lengthAdjust="spacingAndGlyphs">N</text>
<text x="103.1" y="3.5" font-size="14">0</text>
<text x="112.2" y="0.7">]</text>
</g>
</g>
<defs><filter id="sh" x="-5%" y="-30%" width="110%" height="180%"><feGaussianBlur in="SourceAlpha" stdDeviation="1.3"/><feOffset dx="-0.3" dy="1.6"/><feComponentTransfer><feFuncA type="linear" slope="0.28"/></feComponentTransfer><feMerge><feMergeNode/><feMergeNode in="SourceGraphic"/></feMerge></filter></defs>
<g filter="url(#sh)">
<rect x="84.8" y="235.45" width="327.05" height="16.5" fill="#2c3a42" stroke="#000" stroke-width="1.9"/>
<rect x="221.95" y="253.2" width="54.3" height="18.05" fill="#ff7640" stroke="#000" stroke-width="1.9"/>
</g>
<text x="248.9" y="250.6" font-size="21.3" text-anchor="middle" style="fill:#fff">SC</text>
<text x="249.7" y="268.9" font-size="21" text-anchor="middle" style="fill:#fff">F</text>
</svg>
</body></html>
